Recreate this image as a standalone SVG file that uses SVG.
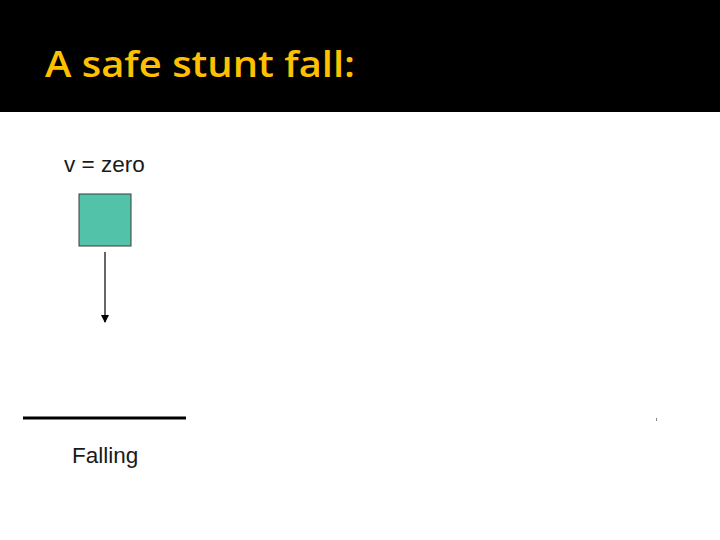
<svg xmlns="http://www.w3.org/2000/svg" width="720" height="540" viewBox="0 0 720 540">
<style>
.lbl{font-family:"Liberation Sans",Arial,sans-serif;font-size:22.5px;fill:#1a1a1a}
.title{font-family:"Open Sans","Noto Sans",sans-serif;font-weight:600;font-size:36px;fill:#FFC000}
</style>
<defs>
<marker id="ah" markerWidth="8" markerHeight="8" refX="7" refY="4" orient="auto" markerUnits="userSpaceOnUse">
<path d="M0,0 L8,4 L0,8 Z" fill="#000"/>
</marker>
</defs>
<rect width="720" height="540" fill="#fff"/>
<g id="header">
<rect x="0" y="0" width="720" height="112" fill="#000"/>
<text class="title" x="45" y="77" textLength="310" lengthAdjust="spacingAndGlyphs">A safe stunt fall:</text>
</g>
<g id="label-v">
<text class="lbl" x="64" y="172">v = zero</text>
</g>
<g id="box">
<rect x="79" y="194" width="52" height="52" fill="#52C3A8" stroke="#3a3a3a" stroke-width="1"/>
</g>
<g id="connectors">
<line x1="105" y1="252" x2="105" y2="322" stroke="#000" stroke-width="1.2" marker-end="url(#ah)"/>
</g>
<g id="ground">
<line x1="23" y1="418" x2="186" y2="418" stroke="#000" stroke-width="3"/>
<text class="lbl" x="72" y="463">Falling</text>
</g>
<rect x="656" y="418" width="1" height="3" fill="#888"/>
</svg>
